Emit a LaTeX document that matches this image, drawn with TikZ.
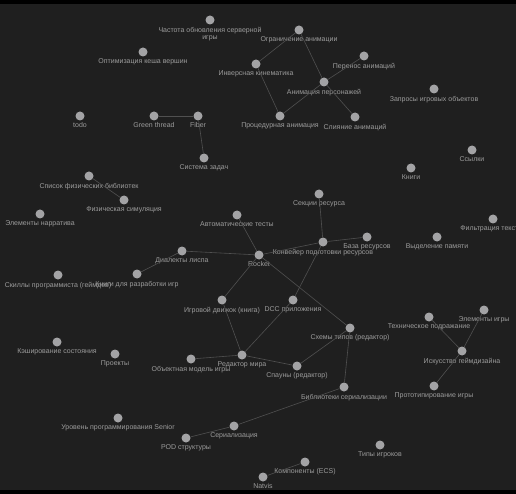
\documentclass[tikz,border=0pt]{standalone}
\usepackage{fontspec}
\setmainfont{Liberation Sans}
\begin{document}
\begin{tikzpicture}[x=1pt,y=-1pt,
  dot/.style={circle,fill=dotc,inner sep=0pt,minimum size=9pt},
  lbl/.style={text=txtc,font=\fontsize{7}{7.5}\selectfont,inner sep=1pt,align=center},
  every label/.style={lbl,label distance=1pt},
  edge/.style={draw=edgec,line width=0.6pt}]
\definecolor{bgc}{HTML}{1F1F1F}
\definecolor{dotc}{HTML}{A3A3A5}
\definecolor{txtc}{HTML}{9C9C9C}
\definecolor{edgec}{HTML}{505050}
\useasboundingbox (0,0) rectangle (516,494);
\fill[bgc] (0,0) rectangle (516,494);
\fill[black] (0,0) rectangle (516,4);
\fill[black] (0,490) rectangle (516,494);

\node[dot,label={below:Частота обновления серверной\\игры}] (chast) at (210,20) {};
\node[dot,label={below:Оптимизация кеша вершин}] (opt) at (143,52) {};
\node[dot,label={below:Ограничение анимации}] (ogr) at (299,30) {};
\node[dot,label={below:Инверсная кинематика}] (ink) at (256,64) {};
\node[dot,label={below:Перенос анимаций}] (per) at (364,56) {};
\node[dot,label={below:Анимация персонажей}] (anp) at (324,82) {};
\node[dot,label={below:Запросы игровых объектов}] (zap) at (434,89) {};
\node[dot,label={below:Процедурная анимация}] (proc) at (280,116) {};
\node[dot,label={below:Слияние анимаций}] (sli) at (355,117) {};
\node[dot,label={below:todo}] (todo) at (80,116) {};
\node[dot,label={below:Green thread}] (green) at (154,116) {};
\node[dot,label={below:Fiber}] (fiber) at (198,116) {};
\node[dot,label={below:Система задач}] (sys) at (204,158) {};
\node[dot,label={below:Книги}] (knigi) at (411,168) {};
\node[dot,label={below:Ссылки}] (ssyl) at (472,150) {};
\node[dot,label={below:Список физических библиотек}] (spis) at (89,176) {};
\node[dot,label={below:Физическая симуляция}] (fiz) at (124,200) {};
\node[dot,label={below:Элементы нарратива}] (narr) at (40,214) {};
\node[dot,label={below:Секции ресурса}] (sek) at (319,194) {};
\node[dot,label={below:Фильтрация текстур}] (filt) at (493,219) {};
\node[dot,label={below:Автоматические тесты}] (avt) at (237,215) {};
\node[dot,label={below:База ресурсов}] (baza) at (367,237) {};
\node[dot,label={below:Выделение памяти}] (vyd) at (437,237) {};
\node[dot,label={below:Конвейер подготовки ресурсов}] (konv) at (323,242) {};
\node[dot,label={below:Rocket}] (rocket) at (259,255) {};
\node[dot,label={below:Диалекты лиспа}] (dial) at (182,251) {};
\node[dot,label={below:Скиллы программиста (геймдев)}] (skill) at (58,275) {};
\node[dot,label={below:Книги для разработки игр}] (kdr) at (137,274) {};
\node[dot,label={below:Игровой движок (книга)}] (igd) at (222,300) {};
\node[dot,label={below:DCC приложения}] (dcc) at (293,300) {};
\node[dot,label={below:Схемы типов (редактор)}] (sxem) at (350,328) {};
\node[dot,label={below:Техническое подражание}] (tex) at (429,317) {};
\node[dot,label={below:Элементы игры}] (elig) at (484,310) {};
\node[dot,label={below:Искусство геймдизайна}] (isk) at (462,351) {};
\node[dot,label={below:Кэширование состояния}] (kesh) at (57,342) {};
\node[dot,label={below:Проекты}] (proe) at (115,354) {};
\node[dot,label={below:Объектная модель игры}] (obm) at (191,359) {};
\node[dot,label={below:Редактор мира}] (red) at (242,355) {};
\node[dot,label={below:Спауны (редактор)}] (spaw) at (297,366) {};
\node[dot,label={below:Библиотеки сериализации}] (bibs) at (344,387) {};
\node[dot,label={below:Прототипирование игры}] (prot) at (434,386) {};
\node[dot,label={below:Уровень программирования Senior}] (urov) at (118,418) {};
\node[dot,label={below:Сериализация}] (ser) at (234,426) {};
\node[dot,label={below:POD структуры}] (pod) at (186,438) {};
\node[dot,label={below:Типы игроков}] (tipy) at (380,445) {};
\node[dot,label={below:Компоненты (ECS)}] (komp) at (305,462) {};
\node[dot,label={below:Natvis}] (natvis) at (263,477) {};

\path[edge] (ogr) -- (ink);
\path[edge] (ogr) -- (anp);
\path[edge] (ink) -- (proc);
\path[edge] (anp) -- (proc);
\path[edge] (anp) -- (per);
\path[edge] (anp) -- (sli);
\path[edge] (green) -- (fiber);
\path[edge] (fiber) -- (sys);
\path[edge] (spis) -- (fiz);
\path[edge] (avt) -- (rocket);
\path[edge] (sek) -- (konv);
\path[edge] (konv) -- (baza);
\path[edge] (konv) -- (rocket);
\path[edge] (konv) -- (dcc);
\path[edge] (dcc) -- (red);
\path[edge] (dial) -- (rocket);
\path[edge] (kdr) -- (dial);
\path[edge] (rocket) -- (igd);
\path[edge] (rocket) -- (sxem);
\path[edge] (igd) -- (red);
\path[edge] (obm) -- (red);
\path[edge] (red) -- (spaw);
\path[edge] (spaw) -- (sxem);
\path[edge] (sxem) -- (bibs);
\path[edge] (bibs) -- (ser);
\path[edge] (ser) -- (pod);
\path[edge] (tex) -- (isk);
\path[edge] (elig) -- (isk);
\path[edge] (isk) -- (prot);
\path[edge] (komp) -- (natvis);
\end{tikzpicture}
\end{document}
